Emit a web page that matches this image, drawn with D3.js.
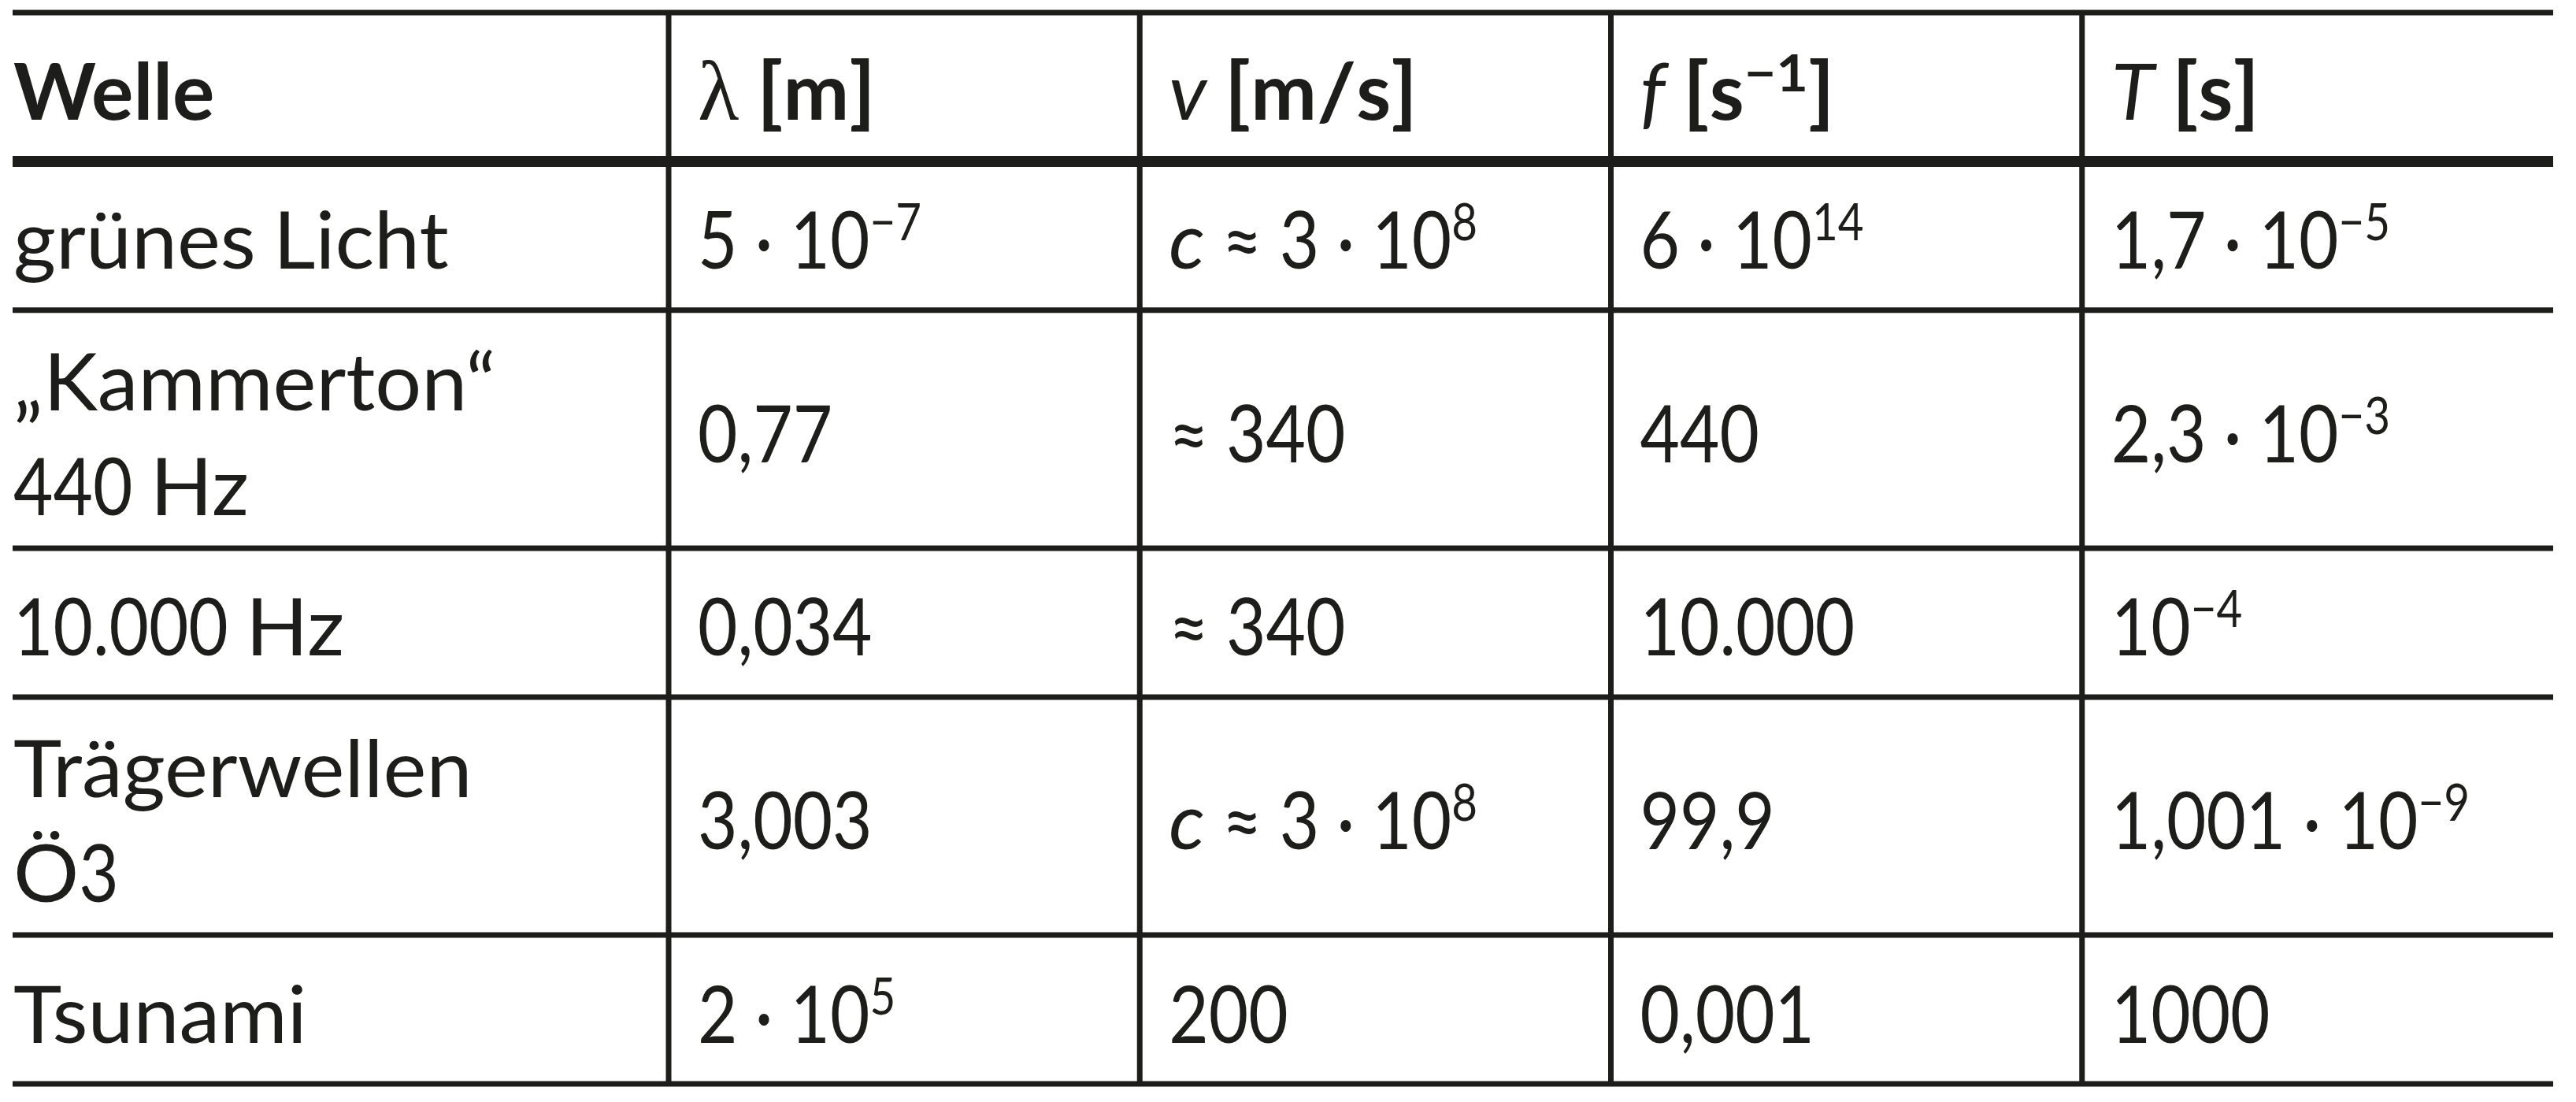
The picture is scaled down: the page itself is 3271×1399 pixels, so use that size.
<!DOCTYPE html>
<html><head><meta charset="utf-8">
<script src="https://cdn.jsdelivr.net/npm/d3@7"></script>
<style>
html,body{margin:0;padding:0;background:#ffffff;}
svg{display:block;}
text{white-space:pre;}
</style>
</head><body>
<svg id="chart" width="3271" height="1399"></svg>
<script>
// ---- data (markup: **bold**, *italic*, ~greek~, ^superscript, | = line break)
const headers    = ["**Welle**", "~λ~ **[m]**", "*v* **[m/s]**", "*f* **[s^−1]**", "*T* **[s]**"];
const waves      = ["grünes Licht", "„Kammerton“|440 Hz", "10.000 Hz", "Trägerwellen|Ö3", "Tsunami"];
const wavelength = ["5 · 10^−7", "0,77", "0,034", "3,003", "2 · 10^5"];
const speed      = ["*c* ≈ 3 · 10^8", "≈ 340", "≈ 340", "*c* ≈ 3 · 10^8", "200"];
const frequency  = ["6 · 10^14", "440", "10.000", "99,9", "0,001"];
const period     = ["1,7 · 10^−5", "2,3 · 10^−3", "10^−4", "1,001 · 10^−9", "1000"];

const columns = [waves, wavelength, speed, frequency, period];
const colKeys = ["welle", "lambda", "v", "f", "T"];

// ---- layout
const ink = "#1d1d1b";
const fontSize = 100, supSize = 65, supRaise = 36;
const svg = d3.select("#chart");

const rowLines = [1].concat(waves.map(w => w.split("|").length));
const rowUnits = rowLines.map(n => n === 1 ? 1 : 1.6);
const cum = [0];
rowUnits.forEach(u => cum.push(cum[cum.length - 1] + u));
const y = d3.scaleLinear().domain([0, cum[cum.length - 1]]).range([16, 1376]);

const tableLeft = 16, tableRight = 3242, firstColRight = 849;
const x = d3.scaleBand().domain(colKeys.slice(1)).range([firstColRight, tableRight]);
const textX = k => k === "welle" ? tableLeft + 1 : x(k) + 37;

// ---- rich text parser
function parse(str, style) {
  style = style || {bold:false, italic:false, greek:false, sup:false};
  const re = /\*\*(.+?)\*\*|\*(.+?)\*|~(.+?)~|\^([^\s\]]+)/g;
  let out = [], last = 0, m;
  while ((m = re.exec(str)) !== null) {
    if (m.index > last) out.push(Object.assign({}, style, {text: str.slice(last, m.index)}));
    if (m[1] !== undefined) out = out.concat(parse(m[1], Object.assign({}, style, {bold:true})));
    else if (m[2] !== undefined) out = out.concat(parse(m[2], Object.assign({}, style, {italic:true})));
    else if (m[3] !== undefined) out.push(Object.assign({}, style, {greek:true, text:m[3]}));
    else if (m[4] !== undefined) out.push(Object.assign({}, style, {sup:true, text:m[4]}));
    last = re.lastIndex;
  }
  if (last < str.length) out.push(Object.assign({}, style, {text: str.slice(last)}));
  return out;
}

const letterRe = /[A-Za-zÄÖÜäöüß„“λ]+|[^A-Za-zÄÖÜäöüß„“λ]+/g;
const isLetters = s => /[A-Za-zÄÖÜäöüß„“λ]/.test(s);

function drawCell(g, str, key, rowIdx) {
  const top = y(cum[rowIdx]), bottom = y(cum[rowIdx + 1]);
  const center = (top + bottom) / 2;
  const lines = str.split("|");
  const baselines = lines.length === 1 ? [center + 42] : [center - 24, center + 109];
  lines.forEach((line, li) => {
    let cursor = textX(key);
    parse(line).forEach(seg => {
      (seg.text.match(letterRe) || []).forEach(piece => {
        const letters = isLetters(piece);
        let sx;
        if (seg.bold) sx = letters ? 1.0 : 1.08;
        else if (letters) sx = (seg.italic || seg.greek) ? 1.0 : 1.04;
        else sx = 0.87;
        const by = baselines[li] - (seg.sup ? supRaise : 0);
        const t = g.append("text")
          .attr("transform", `translate(${cursor},${by}) scale(${sx},1)`)
          .attr("fill", ink)
          .style("font-family", seg.greek ? "'Liberation Serif', 'DejaVu Serif', serif" : "Lato, 'Noto Sans', sans-serif")
          .style("font-size", (seg.greek ? 108 : (seg.sup ? supSize : fontSize)) + "px")
          .style("font-weight", seg.bold ? 700 : 400)
          .style("font-style", seg.italic ? "italic" : "normal")
          .text(piece);
        cursor += t.node().getComputedTextLength() * sx;
      });
    });
  });
}

// ---- cells
const cells = svg.append("g");
headers.forEach((h, ci) => drawCell(cells, h, colKeys[ci], 0));
columns.forEach((col, ci) => col.forEach((v, ri) => drawCell(cells, v, colKeys[ci], ri + 1)));

// ---- rules
const hLines = cum.map((c, i) => ({y: y(c), w: i === 1 ? 14 : 7}));
svg.append("g").selectAll("line").data(hLines).join("line")
  .attr("x1", tableLeft).attr("x2", tableRight)
  .attr("y1", d => d.y).attr("y2", d => d.y)
  .attr("stroke", ink).attr("stroke-width", d => d.w);

svg.append("g").selectAll("line").data(colKeys.slice(1)).join("line")
  .attr("x1", d => x(d)).attr("x2", d => x(d))
  .attr("y1", y(0)).attr("y2", y(cum[cum.length - 1]))
  .attr("stroke", ink).attr("stroke-width", 7);
</script>
</body></html>
